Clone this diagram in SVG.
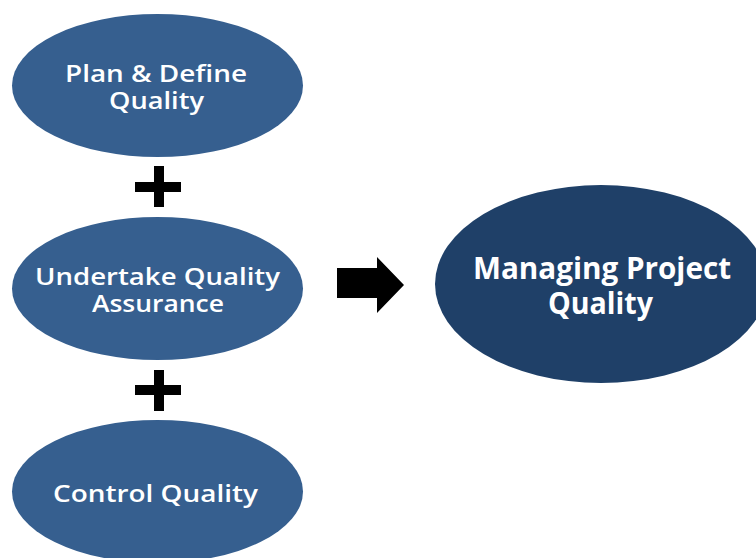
<svg xmlns="http://www.w3.org/2000/svg" width="756" height="558" viewBox="0 0 756 558">
<style>
.n{fill:#365F8F}
.m{fill:#1F4068}
.t{fill:#fff;font-family:"Open Sans",Lato,sans-serif;font-weight:600;text-anchor:middle}
.s{font-size:23.5px}
.b{font-size:30px;font-weight:700}
.k{fill:#000}
</style>
<rect width="756" height="558" fill="#fff"/>
<g id="plan">
<ellipse class="n" cx="157.5" cy="85.5" rx="145.5" ry="71.5"/>
<text class="t s" x="156" y="82" textLength="182" lengthAdjust="spacingAndGlyphs">Plan &amp; Define</text>
<text class="t s" x="156.5" y="109" textLength="95" lengthAdjust="spacingAndGlyphs">Quality</text>
</g>
<g id="assurance">
<ellipse class="n" cx="157.5" cy="288.5" rx="145.5" ry="71.5"/>
<text class="t s" x="157.5" y="285" textLength="245" lengthAdjust="spacingAndGlyphs">Undertake Quality</text>
<text class="t s" x="158" y="312" textLength="132" lengthAdjust="spacingAndGlyphs">Assurance</text>
</g>
<g id="control">
<ellipse class="n" cx="157.5" cy="491.5" rx="145.5" ry="71.5"/>
<text class="t s" x="155.5" y="502" textLength="205" lengthAdjust="spacingAndGlyphs">Control Quality</text>
</g>
<g id="managing">
<ellipse class="m" cx="601" cy="284" rx="166" ry="99"/>
<text class="t b" x="602" y="279" textLength="258" lengthAdjust="spacingAndGlyphs">Managing Project</text>
<text class="t b" x="600.5" y="314" textLength="105" lengthAdjust="spacingAndGlyphs">Quality</text>
</g>
<g id="connectors">
<path class="k" d="M154 166h10v16h17v10h-17v15h-10v-15h-19v-10h19z"/>
<path class="k" d="M154 370h10v15h17v10h-17v16h-10v-16h-19v-10h19z"/>
<path class="k" d="M337 268h40v-11l27 28l-27 28v-15h-40z"/>
</g>
</svg>
